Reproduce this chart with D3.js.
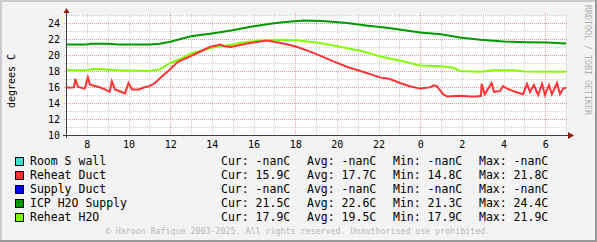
<!DOCTYPE html>
<html>
<head>
<meta charset="utf-8">
<script src="https://cdn.jsdelivr.net/npm/d3@7"></script>
<style>
body { margin: 0; background: #f3f3f3; }
svg { display: block; font-family: "DejaVu Sans Mono", monospace; }
</style>
</head>
<body>
<svg class="chart" width="597" height="242"></svg>
<script>
// hours since midnight of the first day (7 -> 31 spans the 24h window)
var reheatDuctHours = [7.0, 7.1, 7.38, 7.45, 7.58, 7.9, 8.05, 8.15, 8.58, 8.87, 9.1, 9.2, 9.35, 9.55, 9.83, 10.0, 10.17, 10.5, 10.8, 11.0,
	11.27, 11.6, 11.95, 12.3, 12.5, 13.1, 13.9, 14.4, 14.6, 14.9, 15.7, 16.3, 16.65, 17.3, 17.75, 18.1, 18.85, 19.67, 20.5, 21.25,
	22.07, 22.55, 23.03, 23.5, 24.0, 24.47, 24.66, 24.8, 24.95, 25.1, 25.3, 25.9, 26.4, 26.73, 26.92, 26.95, 27.1, 27.43, 27.54, 27.83,
	27.98, 28.17, 28.55, 28.94, 29.13, 29.27, 29.46, 29.66, 29.85, 29.99, 30.18, 30.32, 30.57, 30.71, 30.86, 31.0];
var reheatDuctTemps = [16.1, 15.9, 15.95, 17.0, 16.0, 15.8, 17.2, 16.3, 16.0, 15.7, 15.4, 16.7, 15.7, 15.5, 15.2, 16.5, 15.7, 15.7, 16.0, 16.1,
	16.5, 17.3, 18.1, 19.0, 19.3, 20.0, 21.0, 21.3, 21.1, 21.0, 21.45, 21.7, 21.8, 21.5, 21.25, 21.0, 20.3, 19.4, 18.5, 17.9,
	17.2, 17.0, 16.5, 16.1, 15.8, 15.95, 16.2, 16.1, 15.6, 15.1, 14.8, 14.9, 14.8, 14.8, 14.9, 16.4, 15.1, 16.5, 15.4, 15.5,
	16.1, 15.8, 15.4, 15.1, 16.4, 15.4, 16.25, 15.0, 16.4, 15.0, 16.25, 15.1, 16.5, 15.1, 15.8, 15.9];

var icpSupplyHours = [7.0, 8.0, 8.2, 9.0, 9.5, 11.0, 11.5, 12.0, 12.5, 13.0, 14.0, 15.0, 15.8, 16.8, 17.4, 18.4, 19.3, 20.5, 21.4, 22.4,
	23.0, 24.0, 25.0, 25.9, 26.9, 28.0, 29.1, 30.1, 31.0];
var icpSupplyTemps = [21.3, 21.3, 21.4, 21.4, 21.3, 21.3, 21.4, 21.65, 22.0, 22.35, 22.7, 23.1, 23.5, 23.9, 24.1, 24.3, 24.25, 24.0, 23.7, 23.4,
	23.2, 22.8, 22.6, 22.2, 21.9, 21.7, 21.6, 21.55, 21.45];

var reheatH2oHours = [7.0, 8.0, 8.3, 9.0, 9.5, 10.0, 11.0, 11.5, 12.0, 12.5, 13.0, 14.0, 15.0, 15.3, 16.3, 17.3, 18.2, 19.2, 20.2, 21.2,
	22.1, 23.0, 24.0, 25.0, 25.6, 25.9, 26.9, 27.5, 28.5, 29.0, 31.0];
var reheatH2oTemps = [18.1, 18.1, 18.25, 18.2, 18.1, 18.05, 18.0, 18.2, 19.0, 19.5, 20.2, 20.9, 21.3, 21.5, 21.8, 21.9, 21.8, 21.5, 21.0, 20.5,
	19.8, 19.3, 18.7, 18.6, 18.4, 18.0, 17.9, 18.1, 18.1, 17.95, 17.9];

var legendNames = ['Room S wall', 'Reheat Duct', 'Supply Duct', 'ICP H2O Supply', 'Reheat H2O'];
var legendColors = ['#40e0d0', '#ff3333', '#0000ff', '#009900', '#80ff00'];
var curValues = ['-nan', '15.9', '-nan', '21.5', '17.9'];
var avgValues = ['-nan', '17.7', '-nan', '22.6', '19.5'];
var minValues = ['-nan', '14.8', '-nan', '21.3', '17.9'];
var maxValues = ['-nan', '21.8', '-nan', '24.4', '21.9'];

var yTicks = [10, 12, 14, 16, 18, 20, 22, 24];
var yMinorTicks = [11, 13, 15, 17, 19, 21, 23, 25];

var x0 = 66, x1 = 566, yTop = 15, yBottom = 135;

var day = new Date(2025, 0, 1, 0, 0, 0);
function toDate(h) { return new Date(day.getTime() + h * 3600e3); }

var x = d3.scaleTime().domain([toDate(7), toDate(31)]).range([x0, x1]);
var y = d3.scaleLinear().domain([10, 25]).range([yBottom, yTop]);

var svg = d3.select(".chart");

// background and shaded frame
svg.append("rect").attr("width", 597).attr("height", 242).attr("fill", "#f3f3f3");
svg.append("rect").attr("x", 0).attr("y", 0).attr("width", 597).attr("height", 2).attr("fill", "#cbcbcb");
svg.append("rect").attr("x", 0).attr("y", 0).attr("width", 2).attr("height", 242).attr("fill", "#cbcbcb");
svg.append("rect").attr("x", 0).attr("y", 240).attr("width", 597).attr("height", 2).attr("fill", "#999");
svg.append("rect").attr("x", 595).attr("y", 0).attr("width", 2).attr("height", 242).attr("fill", "#999");

svg.append("rect").attr("x", x0).attr("y", yTop).attr("width", x1 - x0).attr("height", yBottom - yTop).attr("fill", "#fff");

var grid = svg.append("g").attr("shape-rendering", "crispEdges").attr("stroke-width", 1).attr("stroke-dasharray", "1,1");

var hourTicks = x.ticks(d3.timeHour.every(1)).filter(d => d.getHours() % 6 !== 0);
var sixTicks = x.ticks(d3.timeHour.every(6));

grid.selectAll(".vminor").data(hourTicks).enter().append("line")
	.attr("x1", d => Math.round(x(d)) + 0.5).attr("x2", d => Math.round(x(d)) + 0.5)
	.attr("y1", yTop - 1).attr("y2", yBottom + 1)
	.attr("stroke", "#cfcfcf");

grid.selectAll(".hminor").data(yMinorTicks).enter().append("line")
	.attr("x1", x0 - 1).attr("x2", x1 + 1)
	.attr("y1", d => Math.round(y(d)) + 0.5).attr("y2", d => Math.round(y(d)) + 0.5)
	.attr("stroke", "#cfcfcf");

grid.selectAll(".vmajor").data(sixTicks).enter().append("line")
	.attr("x1", d => Math.round(x(d)) + 0.5).attr("x2", d => Math.round(x(d)) + 0.5)
	.attr("y1", yTop - 2).attr("y2", yBottom + 2)
	.attr("stroke", "#e89a9a");

grid.selectAll(".hmajor").data(yTicks).enter().append("line")
	.attr("x1", x0 - 2).attr("x2", x1 + 2)
	.attr("y1", d => Math.round(y(d)) + 0.5).attr("y2", d => Math.round(y(d)) + 0.5)
	.attr("stroke", "#e89a9a");

// data lines
var line = d3.line()
	.x(d => x(toDate(d[0])))
	.y(d => y(d[1]));

var lines = [
	{ hours: icpSupplyHours, temps: icpSupplyTemps, color: legendColors[3] },
	{ hours: reheatH2oHours, temps: reheatH2oTemps, color: legendColors[4] },
	{ hours: reheatDuctHours, temps: reheatDuctTemps, color: legendColors[1] }
];

svg.append("g").selectAll("path").data(lines).enter().append("path")
	.attr("d", s => line(d3.zip(s.hours, s.temps)))
	.attr("fill", "none")
	.attr("stroke", s => s.color)
	.attr("stroke-width", 2)
	.attr("stroke-linejoin", "miter");

// axes
var axes = svg.append("g").attr("shape-rendering", "crispEdges");
axes.append("line").attr("x1", x0 - 3).attr("x2", x1 + 4).attr("y1", yBottom + 0.5).attr("y2", yBottom + 0.5).attr("stroke", "#404040");
axes.append("line").attr("x1", x0 + 0.5).attr("x2", x0 + 0.5).attr("y1", yTop - 4).attr("y2", yBottom + 3).attr("stroke", "#404040");

svg.append("path").attr("d", "M" + (x0 - 2.5) + "," + (yTop - 2) + "L" + (x0 + 0.5) + "," + (yTop - 7) + "L" + (x0 + 3.5) + "," + (yTop - 2) + "Z")
	.attr("fill", "#8b1a1a");
svg.append("path").attr("d", "M" + (x1 + 2) + "," + (yBottom - 3) + "L" + (x1 + 8) + "," + (yBottom + 0.5) + "L" + (x1 + 2) + "," + (yBottom + 4) + "Z")
	.attr("fill", "#8b1a1a");

svg.append("g").selectAll("text").data(yTicks).enter().append("text")
	.attr("x", 60).attr("y", d => y(d) + 3.5)
	.attr("text-anchor", "end")
	.attr("font-size", 10)
	.attr("fill", "#000")
	.text(d => d);

svg.append("g").selectAll("text").data(x.ticks(d3.timeHour.every(2))).enter().append("text")
	.attr("x", d => x(d) + 0.5).attr("y", 148)
	.attr("text-anchor", "middle")
	.attr("font-size", 10)
	.attr("fill", "#000")
	.text(d3.timeFormat("%-H"));

svg.append("text")
	.attr("transform", "translate(15,81) rotate(-90)")
	.attr("text-anchor", "middle")
	.attr("font-size", 10)
	.text("degrees C");

svg.append("text")
	.attr("transform", "translate(585,5) rotate(90)")
	.attr("font-size", 8.3)
	.attr("fill", "#b0b0b0")
	.text("RRDTOOL / TOBI OETIKER");

// legend
var rows = svg.append("g").selectAll("g").data(legendNames).enter().append("g")
	.attr("transform", (d, i) => "translate(0," + (165 + i * 14) + ")");

rows.append("rect")
	.attr("x", 15.5).attr("y", -7.5).attr("width", 8).attr("height", 8)
	.attr("fill", (d, i) => legendColors[i])
	.attr("stroke", "#000")
	.attr("shape-rendering", "crispEdges");

rows.append("text").attr("x", 30).attr("font-size", 11.5).text(d => d);
rows.append("text").attr("x", 221).attr("font-size", 11.5).text((d, i) => "Cur: " + curValues[i] + "C");
rows.append("text").attr("x", 307).attr("font-size", 11.5).text((d, i) => "Avg: " + avgValues[i] + "C");
rows.append("text").attr("x", 393).attr("font-size", 11.5).text((d, i) => "Min: " + minValues[i] + "C");
rows.append("text").attr("x", 479).attr("font-size", 11.5).text((d, i) => "Max: " + maxValues[i] + "C");

svg.append("text")
	.attr("x", 298).attr("y", 234)
	.attr("text-anchor", "middle")
	.attr("font-size", 8.3)
	.attr("fill", "#b8b8b8")
	.text("\u00a9 Haroon Rafique 2003-2025. All rights reserved. Unauthorised use prohibited.");
</script>
</body>
</html>
